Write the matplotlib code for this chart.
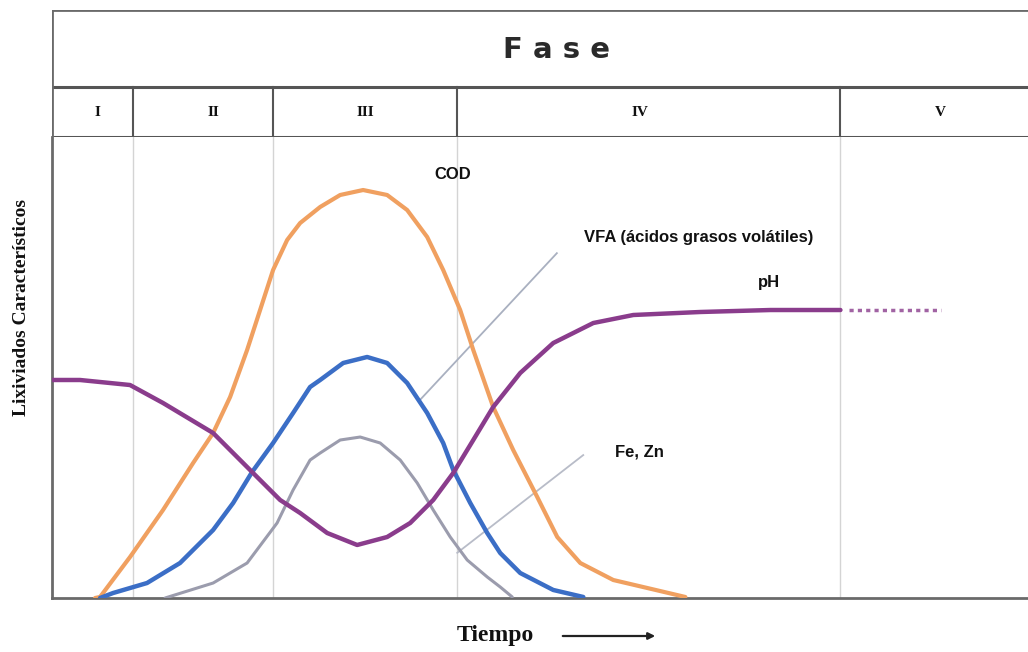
import matplotlib
matplotlib.use("Agg")
import matplotlib.pyplot as plt
from matplotlib.patches import FancyArrowPatch

# ---- data (time in arbitrary units 0-100, concentration in relative units 0-100) ----
phase_names = ["I", "II", "III", "IV", "V"]
phase_bounds = [8.3, 22.6, 41.5, 80.7]
phase_label_x = [4.7, 16.5, 32.1, 60.2, 91.0]

cod_t = [4.41, 4.92, 7.99, 11.37, 14.45, 16.50, 18.24, 19.98, 21.31, 22.64, 24.08,
         25.41, 27.46, 29.51, 31.86, 34.32, 36.37, 38.42, 40.06, 41.80, 43.14,
         45.18, 47.23, 49.69, 51.74, 54.10, 57.48, 60.96, 64.86]
cod_v = [0.0, 0.22, 8.89, 19.09, 29.28, 35.79, 43.60, 53.80, 62.47, 71.15, 77.66,
         81.34, 84.82, 87.42, 88.50, 87.42, 84.16, 78.31, 71.15, 62.47, 53.80,
         41.43, 32.10, 21.91, 13.23, 7.59, 3.90, 2.17, 0.22]

vfa_t = [4.92, 6.25, 9.73, 13.11, 16.50, 18.55, 20.49, 22.64, 24.69, 26.43, 27.46,
         29.82, 32.27, 34.32, 36.37, 38.42, 40.06, 41.09, 42.83, 44.57, 45.90,
         47.95, 51.33, 54.41]
vfa_v = [0.0, 1.08, 3.25, 7.59, 14.75, 20.61, 27.33, 33.62, 40.13, 45.77, 47.29,
         50.98, 52.28, 50.98, 46.64, 40.13, 33.62, 27.77, 20.61, 14.10, 9.76,
         5.42, 1.74, 0.22]

fezn_t = [11.58, 16.50, 19.98, 23.05, 24.69, 26.43, 27.46, 29.51, 31.56, 33.61,
          35.66, 37.40, 39.04, 40.78, 42.52, 44.57, 45.90, 47.13]
fezn_v = [0.0, 3.25, 7.59, 16.27, 23.43, 29.93, 31.45, 34.27, 34.92, 33.62,
          29.93, 24.95, 19.09, 13.23, 8.24, 4.56, 2.39, 0.22]

ph_t = [0.0, 2.87, 7.99, 11.37, 16.50, 20.49, 23.36, 25.41, 28.18, 31.25, 34.32,
        36.68, 39.04, 41.09, 43.14, 45.18, 47.95, 51.33, 55.43, 59.53, 66.39,
        73.57, 80.74]
ph_v = [47.29, 47.29, 46.20, 42.30, 35.79, 27.33, 21.26, 18.44, 14.10, 11.50, 13.23,
        16.27, 21.26, 27.12, 34.27, 41.43, 48.81, 55.31, 59.65, 61.39, 62.04,
        62.47, 62.47]
ph_ext_t = [81.6, 91.0]
ph_ext_v = [62.47, 62.47]

c_cod = "#f0a060"
c_vfa = "#3b6ec6"
c_fezn = "#9b9cad"
c_ph = "#8a3c8c"
c_frame = "#6a6a6a"
c_grid = "#d4d4d4"

W, H = 1028, 652
fig = plt.figure(figsize=(W / 100, H / 100), dpi=100)
fig.patch.set_facecolor("white")

# main plotting area
ax = fig.add_axes([52 / W, (H - 598) / H, (W - 52) / W + 0.01, (598 - 137) / H])
ax.set_xlim(0, 101)
ax.set_ylim(0, 100)
for s in ["top", "right"]:
    ax.spines[s].set_visible(False)
for s in ["left", "bottom"]:
    ax.spines[s].set_color(c_frame)
    ax.spines[s].set_linewidth(2)
ax.set_xticks([])
ax.set_yticks([])

for b in phase_bounds:
    ax.axvline(b, color=c_grid, lw=1.0, zorder=1)

line_kw = dict(solid_capstyle="round", solid_joinstyle="round")
ax.plot(cod_t, cod_v, color=c_cod, lw=3, zorder=3, **line_kw)
ax.plot(fezn_t, fezn_v, color=c_fezn, lw=2.2, zorder=3, **line_kw)
ax.plot(vfa_t, vfa_v, color=c_vfa, lw=3.2, zorder=4, **line_kw)
ax.plot(ph_t, ph_v, color=c_ph, lw=3.2, zorder=5, **line_kw)
ax.plot(ph_ext_t, ph_ext_v, color=c_ph, lw=2.5, linestyle=(0, (1.2, 1.2)), alpha=0.8, zorder=5)

# leader lines to labels
ax.plot([37.7, 51.7], [43.0, 74.8], color="#a9b0c0", lw=1.3, zorder=2)
ax.plot([41.5, 54.4], [9.8, 31.0], color="#b8bcc8", lw=1.3, zorder=2)

lab_font = dict(family=["Liberation Sans", "DejaVu Sans"], fontweight="bold",
                color="#111111")
ax.text(41.0, 91.8, "COD", fontsize=12, ha="center", va="center", **lab_font)
ax.text(66.2, 78.3, "VFA (ácidos grasos volátiles)", fontsize=12, ha="center",
        va="center", **lab_font)
ax.text(73.4, 68.5, "pH", fontsize=12, ha="center", va="center", **lab_font)
ax.text(60.2, 31.7, "Fe, Zn", fontsize=12, ha="center", va="center", **lab_font)

# header with phase numbers
hx = fig.add_axes([52 / W, (H - 137) / H, (W - 52) / W + 0.01, 127 / H])
hx.set_xlim(0, 101)
hx.set_ylim(0, 127)
hx.axis("off")
hx.plot([0, 101], [127, 127], color=c_frame, lw=2)
hx.plot([0, 101], [50, 50], color="#555555", lw=2.2)
hx.plot([0, 101], [0, 0], color="#555555", lw=2.2)
hx.plot([0, 0], [0, 127], color=c_frame, lw=2)
for b in phase_bounds:
    hx.plot([b, b], [0, 50], color="#555555", lw=1.5)
for name, xc in zip(phase_names, phase_label_x):
    hx.text(xc, 25, name, fontsize=11, fontweight="bold", ha="center", va="center",
            family=["Liberation Serif", "DejaVu Serif"], color="#111111")
hx.text(51.7, 87, "F a s e", fontsize=21, fontweight="bold", ha="center", va="center",
        family="DejaVu Sans", color="#2a2a2a")

# axis titles
fig.text(22 / W, 1 - 307 / H, "Lixiviados Característicos", rotation=90, fontsize=14,
         fontweight="bold", ha="center", va="center",
         family=["Liberation Serif", "DejaVu Serif"], color="#111111")
fig.text(495 / W, 1 - 636 / H, "Tiempo", fontsize=17, fontweight="bold", ha="center",
         va="center", family=["Liberation Serif", "DejaVu Serif"], color="#111111")
fig.add_artist(FancyArrowPatch(
    (560 / W, 1 - 636 / H), (658 / W, 1 - 636 / H), transform=fig.transFigure,
    arrowstyle="-|>", mutation_scale=10, lw=1.6, color="#222222"))

fig.savefig("out.png", dpi=100, facecolor="white")
